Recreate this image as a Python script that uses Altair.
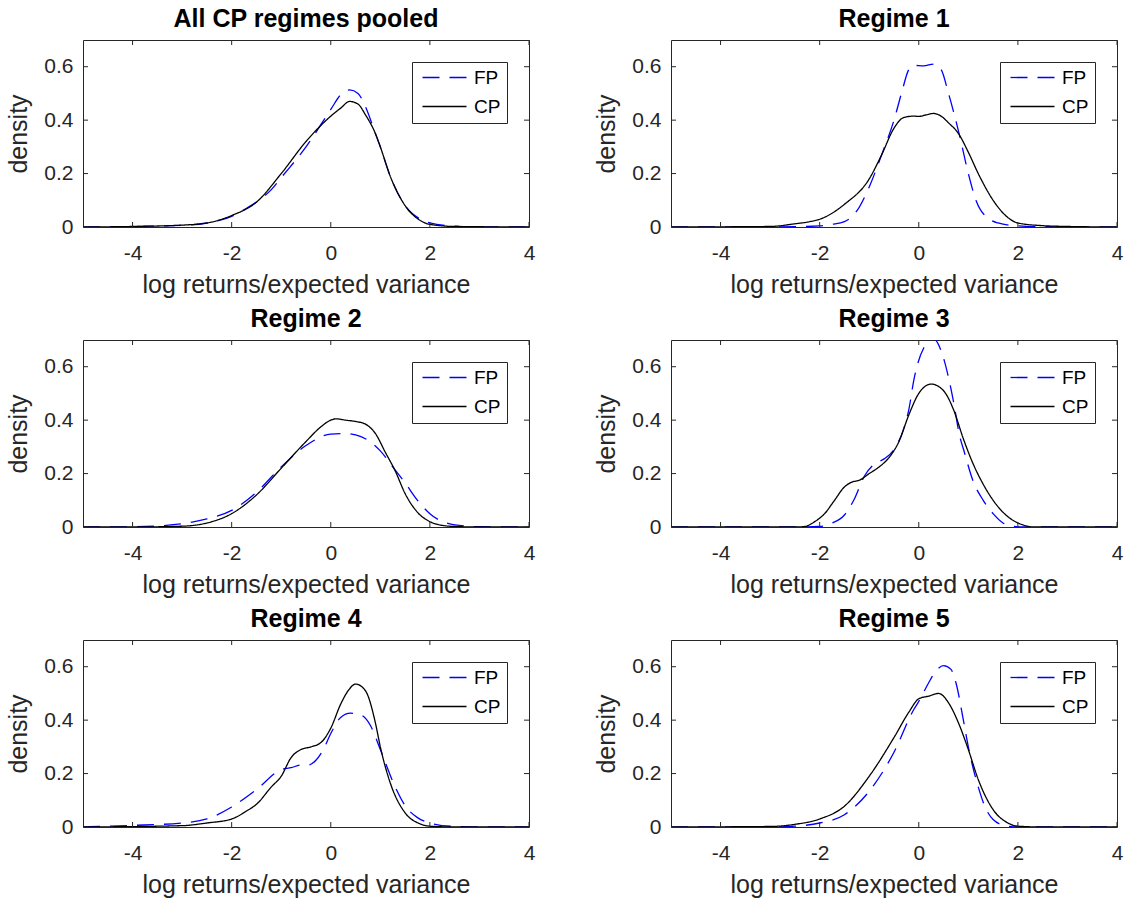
import altair as alt
import pandas as pd

# ---------------- data ----------------
PANEL_TITLES = ["All CP regimes pooled", "Regime 1", "Regime 2", "Regime 3", "Regime 4", "Regime 5"]
SERIES = ["FP", "CP"]
COLORS = ["#0000ff", "#000000"]
DASHES = [[17, 10], [1, 0]]
X_TICKS = [-4, -2, 0, 2, 4]
Y_TICKS = [0, 0.2, 0.4, 0.6]
X_DOMAIN = [-5, 4]
Y_DOMAIN = [0, 0.7]
X_LABEL = "log returns/expected variance"
Y_LABEL = "density"

pooled_fp_x = [-5, -4, -3, -2.5, -2, -1.7, -1.45, -1.2, -1, -0.5, 0, 0.2, 0.38, 0.55, 0.7, 0.9, 1.0, 1.2, 1.5, 1.8, 2.0, 2.5, 3, 4]
pooled_fp_y = [0, 0.002, 0.006, 0.015, 0.04, 0.07, 0.1, 0.14, 0.185, 0.3, 0.44, 0.495, 0.513, 0.5, 0.45, 0.35, 0.3, 0.19, 0.08, 0.03, 0.015, 0.003, 0, 0]
pooled_cp_x = [-5, -4, -3, -2.5, -2, -1.5, -1, -0.5, 0, 0.2, 0.38, 0.55, 0.7, 0.9, 1.0, 1.2, 1.5, 1.8, 2.0, 2.5, 4]
pooled_cp_y = [0, 0.002, 0.007, 0.015, 0.043, 0.093, 0.2, 0.32, 0.415, 0.445, 0.47, 0.46, 0.42, 0.35, 0.3, 0.19, 0.08, 0.025, 0.01, 0.002, 0]

r1_fp_x = [-5, -3, -2.5, -2, -1.75, -1.5, -1.25, -1, -0.75, -0.5, -0.35, -0.2, -0.1, 0.1, 0.3, 0.45, 0.6, 0.82, 1.0, 1.16, 1.43, 1.6, 2.0, 2.5, 4]
r1_fp_y = [0, 0, 0.001, 0.004, 0.01, 0.02, 0.06, 0.15, 0.27, 0.4, 0.5, 0.59, 0.605, 0.603, 0.61, 0.59, 0.5, 0.345, 0.2, 0.097, 0.029, 0.015, 0.004, 0.001, 0]
r1_cp_x = [-5, -3, -2.5, -2.2, -2, -1.5, -1, -0.75, -0.5, -0.3, -0.1, 0, 0.15, 0.3, 0.45, 0.6, 0.8, 1.0, 1.2, 1.5, 1.8, 2.0, 2.5, 3, 4]
r1_cp_y = [0, 0.002, 0.012, 0.02, 0.029, 0.085, 0.18, 0.27, 0.37, 0.41, 0.415, 0.414, 0.42, 0.425, 0.415, 0.39, 0.35, 0.28, 0.2, 0.1, 0.035, 0.015, 0.005, 0.002, 0]

r2_fp_x = [-5, -4, -3.5, -3, -2.5, -2, -1.5, -1, -0.5, 0, 0.25, 0.5, 0.75, 1, 1.25, 1.5, 1.75, 2, 2.5, 3, 4]
r2_fp_y = [0, 0.001, 0.004, 0.012, 0.03, 0.062, 0.13, 0.225, 0.305, 0.348, 0.35, 0.345, 0.325, 0.285, 0.225, 0.165, 0.1, 0.05, 0.008, 0.001, 0]
r2_cp_x = [-5, -4, -3, -2.5, -2, -1.5, -1, -0.5, -0.2, 0, 0.1, 0.3, 0.5, 0.7, 0.9, 1.1, 1.3, 1.5, 1.75, 2, 2.25, 2.5, 3, 4]
r2_cp_y = [0, 0, 0.003, 0.015, 0.05, 0.12, 0.22, 0.32, 0.375, 0.4, 0.405, 0.4, 0.395, 0.385, 0.35, 0.28, 0.21, 0.125, 0.055, 0.02, 0.006, 0.002, 0, 0]

r3_fp_x = [-5, -2.5, -2, -1.75, -1.5, -1.3, -1.1, -0.9, -0.7, -0.5, -0.3, -0.2, -0.1, 0.1, 0.3, 0.45, 0.6, 0.7, 0.82, 0.92, 1.1, 1.3, 1.5, 1.7, 1.9, 2.1, 4]
r3_fp_y = [0, 0, 0.002, 0.015, 0.045, 0.105, 0.19, 0.235, 0.255, 0.29, 0.37, 0.44, 0.55, 0.67, 0.705, 0.66, 0.56, 0.47, 0.345, 0.28, 0.17, 0.1, 0.05, 0.015, 0.003, 0, 0]
r3_cp_x = [-5, -2.5, -2.3, -2.1, -1.9, -1.7, -1.5, -1.35, -1.2, -1.0, -0.8, -0.6, -0.4, -0.2, 0, 0.25, 0.5, 0.7, 0.9, 1.1, 1.3, 1.5, 1.7, 1.9, 2.1, 2.3, 4]
r3_cp_y = [0, 0, 0.002, 0.02, 0.05, 0.1, 0.15, 0.168, 0.175, 0.2, 0.225, 0.26, 0.32, 0.42, 0.5, 0.535, 0.51, 0.44, 0.33, 0.235, 0.16, 0.1, 0.055, 0.025, 0.008, 0, 0]

r4_fp_x = [-5, -4, -3, -2.5, -2, -1.5, -1, -0.8, -0.6, -0.45, -0.3, -0.15, 0, 0.2, 0.4, 0.6, 0.8, 1.0, 1.3, 1.5, 1.75, 2, 2.5, 3, 4]
r4_fp_y = [0.001, 0.006, 0.015, 0.03, 0.075, 0.14, 0.215, 0.222, 0.232, 0.232, 0.25, 0.29, 0.35, 0.41, 0.426, 0.42, 0.38, 0.29, 0.15, 0.08, 0.035, 0.015, 0.002, 0, 0]
r4_cp_x = [-5, -3, -2.5, -2, -1.7, -1.5, -1.2, -1, -0.8, -0.6, -0.4, -0.2, 0, 0.2, 0.35, 0.5, 0.7, 0.9, 1.0, 1.2, 1.5, 1.8, 2, 2.5, 4]
r4_cp_y = [0, 0.005, 0.015, 0.03, 0.06, 0.085, 0.15, 0.19, 0.26, 0.29, 0.3, 0.316, 0.37, 0.46, 0.51, 0.535, 0.51, 0.39, 0.3, 0.165, 0.053, 0.012, 0.003, 0, 0]

r5_fp_x = [-5, -3, -2.5, -2, -1.5, -1, -0.5, -0.1, 0, 0.2, 0.35, 0.5, 0.65, 0.75, 0.9, 1.0, 1.2, 1.35, 1.5, 1.75, 2, 4]
r5_fp_y = [0, 0, 0.003, 0.015, 0.046, 0.134, 0.28, 0.44, 0.47, 0.54, 0.585, 0.604, 0.59, 0.54, 0.4, 0.3, 0.15, 0.07, 0.028, 0.005, 0, 0]
r5_cp_x = [-5, -3, -2.5, -2, -1.5, -1, -0.5, -0.2, 0, 0.2, 0.4, 0.6, 0.8, 1.0, 1.2, 1.5, 1.8, 2, 2.5, 4]
r5_cp_y = [0, 0.002, 0.01, 0.03, 0.078, 0.19, 0.335, 0.43, 0.48, 0.49, 0.5, 0.465, 0.39, 0.29, 0.178, 0.065, 0.015, 0.003, 0, 0]

PANEL_DATA = [
    (pooled_fp_x, pooled_fp_y, pooled_cp_x, pooled_cp_y),
    (r1_fp_x, r1_fp_y, r1_cp_x, r1_cp_y),
    (r2_fp_x, r2_fp_y, r2_cp_x, r2_cp_y),
    (r3_fp_x, r3_fp_y, r3_cp_x, r3_cp_y),
    (r4_fp_x, r4_fp_y, r4_cp_x, r4_cp_y),
    (r5_fp_x, r5_fp_y, r5_cp_x, r5_cp_y),
]

# ---------------- style ----------------
FONT = "Liberation Sans"
INK = "#262626"
W, H = 446, 187
TICK_LEN = 5

x_scale = alt.Scale(domain=X_DOMAIN, nice=False, zero=False)
y_scale = alt.Scale(domain=Y_DOMAIN, nice=False, zero=False)

x_axis = alt.Axis(
    values=X_TICKS, title=X_LABEL, labelFlush=False, labelPadding=15,
    titlePadding=9,
    labelExpr="datum.value < 0 ? '-' + abs(datum.value) : '' + datum.value",
)
y_axis = alt.Axis(
    values=Y_TICKS, title=Y_LABEL, labelPadding=10, titlePadding=12,
    labelExpr="datum.value == 0 ? '0' : format(datum.value, '.1f')",
)


def panel(title, fx, fy, cx, cy):
    df = pd.DataFrame({
        "x": list(fx) + list(cx),
        "y": list(fy) + list(cy),
        "series": ["FP"] * len(fx) + ["CP"] * len(cx),
    })
    legend = alt.Legend(
        orient="none", legendX=329, legendY=22, title=None,
        padding=6, strokeColor=INK, fillColor="white", cornerRadius=0,
        symbolType="M-1,0H7.8", symbolSize=100, symbolStrokeWidth=1.3,
        labelOffset=37, labelFont=FONT, labelFontSize=19, labelColor="#000000",
        rowPadding=9,
    )
    lines = alt.Chart(df).mark_line(strokeWidth=1.3, interpolate="monotone", clip=True).encode(
        x=alt.X("x:Q", scale=x_scale, axis=x_axis),
        y=alt.Y("y:Q", scale=y_scale, axis=y_axis),
        color=alt.Color("series:N", scale=alt.Scale(domain=SERIES, range=COLORS), legend=legend),
        strokeDash=alt.StrokeDash("series:N", scale=alt.Scale(domain=SERIES, range=DASHES), legend=legend),
    )
    xt = pd.DataFrame({"x": X_TICKS})
    yt = pd.DataFrame({"y": Y_TICKS})
    bottom = alt.Chart(xt).mark_rule(color=INK, strokeWidth=1).encode(
        x=alt.X("x:Q", scale=x_scale, axis=x_axis), y=alt.value(H), y2=alt.value(H - TICK_LEN))
    top = alt.Chart(xt).mark_rule(color=INK, strokeWidth=1).encode(
        x=alt.X("x:Q", scale=x_scale, axis=x_axis), y=alt.value(0), y2=alt.value(TICK_LEN))
    left = alt.Chart(yt).mark_rule(color=INK, strokeWidth=1).encode(
        y=alt.Y("y:Q", scale=y_scale, axis=y_axis), x=alt.value(0), x2=alt.value(TICK_LEN))
    right = alt.Chart(yt).mark_rule(color=INK, strokeWidth=1).encode(
        y=alt.Y("y:Q", scale=y_scale, axis=y_axis), x=alt.value(W), x2=alt.value(W - TICK_LEN))
    return alt.layer(lines, bottom, top, left, right).properties(
        width=W, height=H,
        title=alt.TitleParams(title, fontSize=25, font=FONT, fontWeight="bold", color="#000000", offset=8),
    )


panels = [panel(t, *d) for t, d in zip(PANEL_TITLES, PANEL_DATA)]

rows = []
for i in range(0, 6, 2):
    rows.append(
        alt.hconcat(panels[i], panels[i + 1], spacing=58)
        .resolve_scale(color="independent", strokeDash="independent")
        .resolve_legend(color="independent", strokeDash="independent")
    )

chart = (
    alt.vconcat(*rows, spacing=8)
    .resolve_scale(color="independent", strokeDash="independent")
    .resolve_legend(color="independent", strokeDash="independent")
    .properties(padding={"left": 6, "top": 6, "right": 5, "bottom": 5}, background="white")
    .configure_view(stroke=INK, strokeWidth=1)
    .configure_axis(
        grid=False, domain=False, ticks=False,
        labelFont=FONT, labelFontSize=21, labelColor=INK,
        titleFont=FONT, titleFontSize=25, titleFontWeight="normal", titleColor=INK,
    )
)

chart.save("out.html", embed_options={"renderer": "svg", "actions": False})
